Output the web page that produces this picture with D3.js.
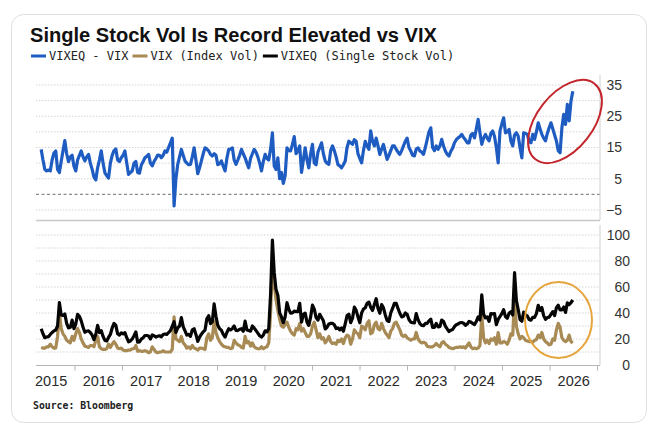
<!DOCTYPE html>
<html><head><meta charset="utf-8">
<script src="https://cdn.jsdelivr.net/npm/d3@7"></script>
<style>html,body{margin:0;padding:0;background:#fff;} svg{display:block;}</style>
</head><body><svg id="c" width="652" height="426"></svg>
<script>
const titleText = "Single Stock Vol Is Record Elevated vs VIX";
const seriesNames = ["VIXEQ - VIX", "VIX (Index Vol)", "VIXEQ (Single Stock Vol)"];
const seriesColors = ["#1f5cc2", "#a88a55", "#050505"];
const sourceText = "Source: Bloomberg";
const startDate = "2015-04-20";
const stepDays = 14;

// VIXEQ - VIX spread (top panel)
const spread = [
 14.4,11,8,7.5,7.8,7.5,11,13.2,13.9,8,7,10.5,14,17.2,13,10.5,12,12.5,9,
 7.5,11,12.5,13.9,12,10.7,12,12.8,10,8,5.5,4.6,8.5,11,13.9,10,6.9,6,5.2,10,12.5,14,14.5,11,10.5,11.7,
 12.5,13.9,10,6.4,7,7.5,10,10.5,7,6.8,9.4,10.5,11.7,12.2,12.8,10,9.1,10.5,11.5,12.6,12.5,11.7,12.5,13.9,13.5,15,
 16.5,18,-3.7,5,9.6,12,14.4,12.5,10.7,10,9.5,9.6,12,14.9,11,6.6,8.5,10.7,13,14.9,14.5,13.9,12.8,12.3,13,12.5,
 9.5,9.8,10.7,9,7.5,11.5,14.4,14.5,14.9,11,9.6,11,12.5,14.4,13,11.7,10,8.5,11.5,13,14.4,13.5,12,10,7.5,10.5,
 12.8,11.5,11,14.5,19.7,9,8,11.7,5,7,3.5,6,14.9,14,13.9,16,18.5,13,14,15.5,7,11,14.9,11,8.5,13,
 16,10,9.5,13.5,15,16.5,13,10.7,10,9.6,14,15.5,14,12,9.5,9.1,8.5,9.5,10.7,15,17,16.5,16,17.5,17,13,
 11.5,10.1,14,17,15.5,14.4,20.3,17,15.5,18,15.5,12.8,14.5,16,13.5,11.2,12.5,14,15.5,15.5,14.4,13.5,12.8,14,15.5,17,
 18,15,13.9,12.5,12.3,14.5,14.9,13.9,13.5,12.8,15,17.5,20,21.3,15,14,15.5,14.4,15.5,17.6,15.5,13.9,12.8,12.3,13.8,14.8,
 16.5,17.5,18.1,18.5,19.2,18.2,17.5,16.5,16.5,19,19.5,18.1,21,24,19.7,16,18,19.2,18,17.1,19.5,20.3,18.5,15,10.1,20.3,22.5,
 24.5,19.7,20,20.8,17,15.5,19,19.7,18.7,15,11.7,19.7,19.5,19.2,17,16.5,19.2,17.6,20,22.9,21,19.2,18,17.1,19.5,21.3,
 22.9,21,19,17.1,14,13.3,21.3,25.6,22.4,28.8,23.5,29.9,33
];

// VIX (index vol, bottom panel)
const vix = [
 13.5,13,13,14,14,16,14,13,13,22,41,28,24,22,19,18,17,22,19,
 24,28,25,20,17,14.5,14,13.5,15,15,14,19,22,14,12.5,12,12,12.5,16,13.5,16,18,16,13,12.5,13,
 11.5,11,11,11.5,11.5,12.5,12.5,15,10.5,11,10.5,10.5,11,10.5,9.5,10,14,12,10,9.5,10,10,11,10,10,10,
 10,12,37,20,19,18,22,17,15.5,13,14,12.5,15,13,12.5,11.5,13,13,12.5,12,21,24,19,21,34,25,
 21,18,16,14.5,14,13.5,13.5,12.5,13,19,17,15.5,15,13.5,13,22,17,18,14.5,17,14,13,12.5,12.5,14,12.5,
 13.5,14,17,40,78,62,50,42,35,30,29,31,33,29,26,24,23,28,27,32,26,28,25,22,22,24,
 30,33,27,21,24,20,21,17,19,22,18,16.5,17,16,19,18,20,16.5,21,23,22,16,20,27,25,24,
 21,30,29,27,32,34,24,25,31,33,28,27,32,28,25,23,21,26,28,32,33,30,27,23,22,23,
 21,20,19,20,20,25,20,18,17,17.5,17,14.5,14,14,14,15,16.5,15,14,17,18,16,15,13.5,13,12.5,
 13,13.5,13.5,14,13.5,14,13,15,17,14,12.5,13,12.5,13,15,38,21,17,19,16.5,20,19,21,16,25,17,17,
 18,17.5,16,19,24,23,52,30,24,20,22,21,19,18.5,18,18,17.5,19,19.5,23,21,25,20,18,17,15.5,
 16,20,19,27,32,29,21,19,18,19,23,18,17
];

// VIXEQ (single stock vol, bottom panel)
const vixeq = [
 27.9,24,21,21.5,21.8,23.5,25,26.2,26.9,30,48,38.5,38,39.2,32,28.5,29,34.5,28,
 31.5,39,37.5,33.9,29,25.2,26,26.3,25,23,19.5,23.6,30.5,25,26.4,22,18.9,18.5,21.2,23.5,28.5,32,30.5,24,23,24.7,
 24,24.9,21,17.9,18.5,20,22.5,25.5,17.5,17.8,19.9,21,22.7,22.7,22.3,20,23.1,22.5,21.5,22.1,22.5,21.7,23.5,23.9,23.5,25,
 26.5,30,33.3,25,28.6,30,36.4,29.5,26.2,23,23.5,22.1,27,27.9,23.5,18.1,21.5,23.7,25.5,26.9,35.5,37.9,31.8,33.3,47,37.5,
 30.5,27.8,26.7,23.5,21.5,25,27.9,27,27.9,30,26.6,26.5,27.5,27.9,26,33.7,27,26.5,26,30,28.4,26.5,24.5,22.5,21.5,23,
 26.3,25.5,28,54.5,96,71,58,53.7,40,37,32.5,37,47.9,43,39.9,40,41.5,41,41,47.5,33,39,39.9,33,30.5,37,
 46,43,36.5,34.5,39,36.5,34,27.7,29,31.6,32,32,31,28,28.5,27.1,28.5,26,31.7,38,39,32.5,36,44.5,42,37,
 32.5,40.1,43,44,47.5,48.4,44.3,42,46.5,51,43.5,39.8,46.5,44,38.5,34.2,33.5,40,43.5,47.5,47.4,43.5,39.8,37,37.5,40,
 39,35,32.9,32.5,32.3,39.5,34.9,31.9,30.5,30.3,32,32,34,35.3,29,29,32,29.4,29.5,34.6,33.5,29.9,27.8,25.8,26.8,27.3,
 29.5,31,31.6,32.5,32.7,32.2,30.5,31.5,33.5,33,32,31.1,33.5,37,34.7,54,39,36.2,37,33.6,39.5,39.3,39.5,31,35.1,37.3,39.5,
 42.5,37.2,36,39.8,41,38.5,71,49.7,42.7,35,33.7,40.7,38.5,37.7,35,34.5,36.7,36.6,39.5,45.9,42,44.2,38,35.1,36.5,36.8,
 38.9,41,38,44.1,46,42.3,42.3,44.6,40.4,47.8,46.5,47.9,50
];

const yearLabels = [2015,2016,2017,2018,2019,2020,2021,2022,2023,2024,2025,2026];
const topTicks = [35,25,15,5,-5];
const topGrid = [35,30,25,20,15,10,5,0,-5];
const bottomTicks = [100,80,60,40,20,0];
const bottomGrid = [100,90,80,70,60,50,40,30,20,10];

const svg = d3.select("#c");
const start = d3.timeParse("%Y-%m-%d")(startDate);
const dates = spread.map((_, i) => d3.timeDay.offset(start, i * stepDays));

// card
svg.append("rect").attr("x", 11.5).attr("y", 14.5).attr("width", 635).attr("height", 408)
  .attr("rx", 12).attr("fill", "#fff").attr("stroke", "#dcdfe3").attr("stroke-width", 1);

// title
const t = svg.append("text").attr("x", 30).attr("y", 42)
  .attr("font-family", "Liberation Sans, Arial, sans-serif").attr("font-weight", "bold")
  .attr("font-size", 17).attr("fill", "#111").text(titleText);
const tw = t.node().getComputedTextLength();
t.attr("font-size", 17 * 407 / tw);

// legend
let lx = 31;
seriesNames.forEach((name, k) => {
  svg.append("line").attr("x1", lx).attr("x2", lx + 15).attr("y1", 56).attr("y2", 56)
    .attr("stroke", seriesColors[k]).attr("stroke-width", 3);
  lx += 18;
  const tt = svg.append("text").attr("x", lx).attr("y", 60)
    .attr("font-family", "DejaVu Sans Mono, monospace").attr("font-size", 12)
    .attr("fill", "#222").text(name);
  lx += tt.node().getComputedTextLength() + 4;
});

// scales
const x = d3.scaleTime().domain([new Date(2015, 0, 1), new Date(2027, 0, 1)]).range([27, 597]);
const yTop = d3.scaleLinear().domain([-5, 35]).range([210, 85]);
const yBot = d3.scaleLinear().domain([0, 100]).range([365, 235]);
const gx0 = 36, gx1 = 600;

// grids top
topGrid.forEach(v => {
  svg.append("line").attr("x1", gx0).attr("x2", gx1).attr("y1", yTop(v)).attr("y2", yTop(v))
    .attr("stroke", v === 0 ? "#8a8a8a" : "#d4d4d4")
    .attr("stroke-width", v === 0 ? 1.3 : 1)
    .attr("stroke-dasharray", v === 0 ? "3,2.5" : "1.5,1.5");
});
// grids bottom
bottomGrid.forEach(v => {
  svg.append("line").attr("x1", gx0).attr("x2", gx1).attr("y1", yBot(v)).attr("y2", yBot(v))
    .attr("stroke", "#d4d4d4").attr("stroke-dasharray", "1.5,1.5");
});

// frames
svg.append("line").attr("x1", gx0).attr("x2", gx1).attr("y1", 220.5).attr("y2", 220.5).attr("stroke", "#c8c8c8").attr("stroke-width", 1.5);
svg.append("line").attr("x1", gx1).attr("x2", gx1).attr("y1", 75).attr("y2", 220).attr("stroke", "#cfcfcf");
svg.append("line").attr("x1", gx1).attr("x2", gx1).attr("y1", 225).attr("y2", 365).attr("stroke", "#cfcfcf");
svg.append("line").attr("x1", gx0).attr("x2", gx1).attr("y1", 365.5).attr("y2", 365.5).attr("stroke", "#b5b5b5");

// right axes
const axisFont = "Liberation Sans, Arial, sans-serif";
const gTop = svg.append("g").attr("transform", `translate(${gx1},0)`)
  .call(d3.axisRight(yTop).tickValues(topTicks).tickSize(0).tickFormat(d3.format("d")));
gTop.select(".domain").remove();
gTop.selectAll("text").attr("x", 22).attr("text-anchor", "end").attr("font-family", axisFont)
  .attr("font-size", 14).attr("fill", "#333");
const gBot = svg.append("g").attr("transform", `translate(${gx1},0)`)
  .call(d3.axisRight(yBot).tickValues(bottomTicks).tickSize(0).tickFormat(d3.format("d")));
gBot.select(".domain").remove();
gBot.selectAll("text").attr("x", 30).attr("text-anchor", "end").attr("font-family", axisFont)
  .attr("font-size", 14).attr("fill", "#333");

// x axis ticks & labels
const yearStarts = yearLabels.slice(1).map(y => new Date(y, 0, 1)).concat([new Date(2027, 0, 1)]);
const gxT = svg.append("g").attr("transform", "translate(0,365.5)")
  .call(d3.axisBottom(x).tickValues(yearStarts).tickSize(5).tickFormat(""));
gxT.select(".domain").remove();
gxT.selectAll("line").attr("stroke", "#b5b5b5");
const gxL = svg.append("g").attr("transform", "translate(0,374)")
  .call(d3.axisBottom(x).tickValues(yearLabels.map(y => new Date(y, 6, 2))).tickSize(0)
    .tickFormat(d3.timeFormat("%Y")));
gxL.select(".domain").remove();
gxL.selectAll("text").attr("font-family", axisFont).attr("font-size", 14.5).attr("fill", "#2a2a2a").attr("dy", "0.71em").attr("y", 2);

// lines
const lineTop = d3.line().x((d, i) => x(dates[i])).y(d => yTop(d));
const lineBot = d3.line().x((d, i) => x(dates[i])).y(d => yBot(d));
svg.append("path").datum(spread).attr("d", lineTop).attr("fill", "none")
  .attr("stroke", seriesColors[0]).attr("stroke-width", 3.2).attr("stroke-linejoin", "round");
svg.append("path").datum(vix).attr("d", lineBot).attr("fill", "none")
  .attr("stroke", seriesColors[1]).attr("stroke-width", 3.2).attr("stroke-linejoin", "round");
svg.append("path").datum(vixeq).attr("d", lineBot).attr("fill", "none")
  .attr("stroke", seriesColors[2]).attr("stroke-width", 3.2).attr("stroke-linejoin", "round");

// annotation ellipses
svg.append("ellipse").attr("cx", 0).attr("cy", 0).attr("rx", 48).attr("ry", 28)
  .attr("transform", "translate(565,121.5) rotate(-52)")
  .attr("fill", "none").attr("stroke", "#c3262c").attr("stroke-width", 2);
svg.append("ellipse").attr("cx", 558.5).attr("cy", 320).attr("rx", 33.5).attr("ry", 38)
  .attr("fill", "none").attr("stroke", "#e6a53c").attr("stroke-width", 2);

// source
svg.append("text").attr("x", 33).attr("y", 409).attr("font-family", "DejaVu Sans Mono, monospace")
  .attr("font-weight", "bold").attr("font-size", 9.8).attr("fill", "#222").text(sourceText);
</script></body></html>
